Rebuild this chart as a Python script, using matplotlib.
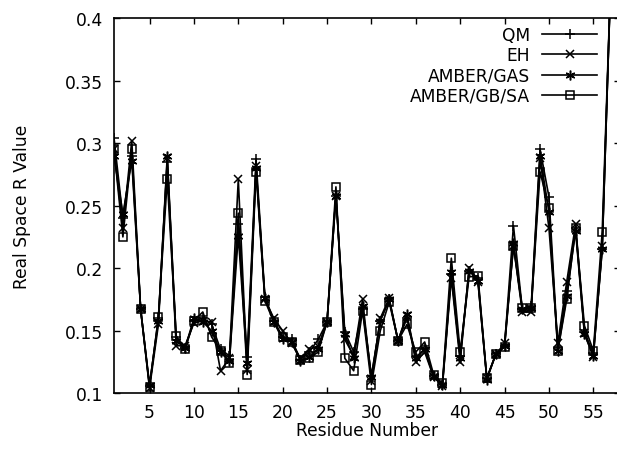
import numpy as np
import matplotlib
matplotlib.use('Agg')
import matplotlib.pyplot as plt

# residue numbers and R values
residue = np.arange(1, 58)

qm = [0.304, 0.240, 0.290, 0.167, 0.106, 0.160, 0.285, 0.145, 0.136, 0.158,
      0.160, 0.155, 0.135, 0.130, 0.235, 0.129, 0.287, 0.177, 0.158, 0.145,
      0.143, 0.127, 0.133, 0.143, 0.157, 0.258, 0.149, 0.133, 0.167, 0.114,
      0.158, 0.175, 0.142, 0.160, 0.129, 0.135, 0.114, 0.107, 0.195, 0.130,
      0.198, 0.192, 0.112, 0.131, 0.138, 0.234, 0.167, 0.170, 0.295, 0.257,
      0.136, 0.182, 0.232, 0.149, 0.132, 0.215, 0.44]
eh = [0.295, 0.232, 0.302, 0.167, 0.104, 0.155, 0.288, 0.138, 0.138, 0.156,
      0.158, 0.157, 0.118, 0.128, 0.271, 0.119, 0.282, 0.175, 0.160, 0.150,
      0.140, 0.128, 0.135, 0.138, 0.157, 0.258, 0.143, 0.130, 0.175, 0.110,
      0.160, 0.176, 0.142, 0.162, 0.125, 0.133, 0.113, 0.106, 0.192, 0.125,
      0.200, 0.189, 0.112, 0.131, 0.140, 0.218, 0.165, 0.165, 0.288, 0.232,
      0.140, 0.189, 0.235, 0.148, 0.129, 0.218, 0.44]
amber_gas = [0.290, 0.243, 0.286, 0.167, 0.107, 0.158, 0.290, 0.142, 0.136, 0.160,
             0.157, 0.150, 0.133, 0.126, 0.226, 0.124, 0.280, 0.176, 0.157, 0.143,
             0.141, 0.126, 0.129, 0.135, 0.157, 0.258, 0.147, 0.128, 0.170, 0.113,
             0.158, 0.175, 0.142, 0.163, 0.128, 0.135, 0.114, 0.107, 0.197, 0.128,
             0.198, 0.190, 0.111, 0.131, 0.138, 0.220, 0.167, 0.168, 0.290, 0.245,
             0.134, 0.178, 0.230, 0.147, 0.130, 0.215, 0.44]
amber_gbsa = [0.295, 0.225, 0.295, 0.167, 0.105, 0.161, 0.271, 0.146, 0.135, 0.158,
              0.165, 0.145, 0.134, 0.124, 0.244, 0.115, 0.277, 0.174, 0.157, 0.145,
              0.141, 0.127, 0.128, 0.133, 0.157, 0.265, 0.128, 0.118, 0.166, 0.107,
              0.150, 0.173, 0.142, 0.155, 0.133, 0.141, 0.115, 0.108, 0.208, 0.133,
              0.193, 0.194, 0.112, 0.131, 0.137, 0.218, 0.168, 0.168, 0.277, 0.248,
              0.134, 0.175, 0.232, 0.154, 0.134, 0.229, 0.44]

yticks = [0.1, 0.15, 0.2, 0.25, 0.3, 0.35, 0.4]
ytick_labels = ['0.1', '0.15', '0.2', '0.25', '0.3', '0.35', '0.4']
xticks = [5, 10, 15, 20, 25, 30, 35, 40, 45, 50, 55]

plt.rcParams['font.family'] = 'DejaVu Sans'
plt.rcParams['font.size'] = 12.3

fig = plt.figure(figsize=(6.17, 4.52), dpi=100)
ax = fig.add_axes([0.1848, 0.1277, 1.0048 - 0.1848, 0.958 - 0.1277])

lw = 1.2
ax.plot(residue, qm, color='black', lw=lw, marker='+', ms=7, mew=1.1, label='QM')
ax.plot(residue, eh, color='black', lw=lw, marker='x', ms=6, mew=1.1, label='EH')
ax.plot(residue, amber_gas, color='black', lw=lw, marker=(6, 2, 0), ms=7, mew=1.1,
        label='AMBER/GAS')
ax.plot(residue, amber_gbsa, color='black', lw=lw, marker='s', ms=5.5, mew=1.1,
        mfc='none', label='AMBER/GB/SA')

ax.set_xlim(1, 58)
ax.set_ylim(0.1, 0.4)
ax.set_xticks(xticks)
ax.set_yticks(yticks)
ax.set_yticklabels(ytick_labels)
ax.tick_params(direction='in', length=4, width=1, top=True, right=True, pad=8)
ax.tick_params(axis='x', pad=7)
for s in ax.spines.values():
    s.set_linewidth(1.2)

ax.set_xlabel('Residue Number', labelpad=0)
ax.set_ylabel('Real Space R Value', labelpad=24)

# gnuplot-like key: labels right-aligned, sample line after the text
ax.legend(loc='upper right', bbox_to_anchor=(0.9545, 0.978), frameon=False,
          markerfirst=False, numpoints=1, handlelength=3.2, handletextpad=0.7,
          labelspacing=0.13, borderpad=0, borderaxespad=0)

fig.savefig('out.png', dpi=100)
